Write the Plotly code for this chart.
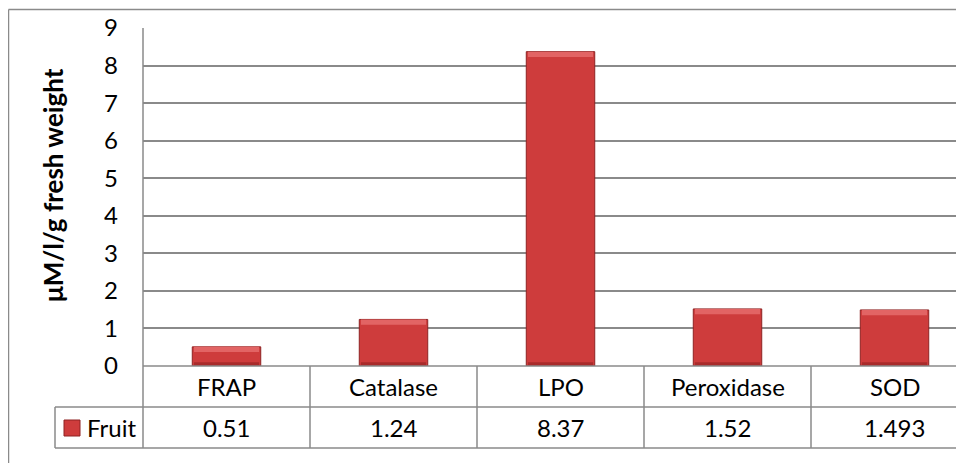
import plotly.graph_objects as go

categories = ["FRAP", "Catalase", "LPO", "Peroxidase", "SOD"]
fruit_values = [0.51, 1.24, 8.37, 1.52, 1.493]
value_labels = ["0.51", "1.24", "8.37", "1.52", "1.493"]
series_name = "Fruit"
y_title = "μM/l/g fresh weight"
y_ticks = list(range(0, 10))

# The page body adds an 8px margin; the figure is sized/offset to compensate.
OFF = 8
W, H = 964 - OFF, 463 - OFF
PLOT_L, PLOT_T, PLOT_B = 143, 28, 366   # reference pixel positions
L, T = PLOT_L - OFF, PLOT_T - OFF
B = H - (PLOT_B - OFF)
plot_h = PLOT_B - PLOT_T
plot_w = W - L
COL_W = 167.0

def py(Y):   # reference pixel Y -> paper y
    return (PLOT_B - Y) / plot_h

def px(X):   # reference pixel X -> paper x
    return (X - PLOT_L) / plot_w

FONT = "Lato, Carlito, Calibri, sans-serif"
GRID = "#8a8a8a"

top_h = 0.14
bot_h = 0.10

fig = go.Figure()
fig.add_trace(go.Bar(
    x=categories, y=fruit_values, width=0.41, name=series_name,
    marker=dict(color="#CE3C3C", line=dict(color="#8E2323", width=1)),
    showlegend=False, hoverinfo="x+y",
))
fig.add_trace(go.Bar(
    x=categories, y=[top_h] * len(fruit_values),
    base=[v - top_h for v in fruit_values], width=0.39,
    marker=dict(color="#E26464", line=dict(width=0)),
    showlegend=False, hoverinfo="skip",
))
fig.add_trace(go.Bar(
    x=categories, y=[bot_h] * len(fruit_values),
    base=[0.0] * len(fruit_values), width=0.39,
    marker=dict(color="#A82B2B", line=dict(width=0)),
    showlegend=False, hoverinfo="skip",
))

shapes = []
line = dict(color=GRID, width=1.5)
shapes.append(dict(type="line", xref="paper", yref="paper", x0=px(8.5), x1=1.2, y0=py(9.5), y1=py(9.5), line=line))
shapes.append(dict(type="line", xref="paper", yref="paper", x0=px(8.5), x1=px(8.5), y0=py(9.5), y1=py(500), line=line))
shapes.append(dict(type="line", xref="paper", yref="paper", x0=0, x1=0, y0=1, y1=py(448), line=line))
shapes.append(dict(type="line", xref="paper", yref="paper", x0=0, x1=1.2, y0=0, y1=0, line=line))
shapes.append(dict(type="line", xref="paper", yref="paper", x0=px(55), x1=1.2, y0=py(407), y1=py(407), line=line))
shapes.append(dict(type="line", xref="paper", yref="paper", x0=px(55), x1=1.2, y0=py(448), y1=py(448), line=line))
shapes.append(dict(type="line", xref="paper", yref="paper", x0=px(55), x1=px(55), y0=py(407), y1=py(448), line=line))
for i in range(len(categories)):
    shapes.append(dict(type="line", xref="x", yref="paper", x0=i + 0.5, x1=i + 0.5,
                       y0=0, y1=py(448), line=line))
shapes.append(dict(type="rect", xref="paper", yref="paper", x0=px(64), x1=px(80),
                   y0=py(436), y1=py(420), fillcolor="#CE3C3C",
                   line=dict(color="#8E2323", width=1)))

TXT = dict(size=24, color="#000", family=FONT)
annotations = []
for c, lab in zip(categories, value_labels):
    annotations.append(dict(x=c, xref="x", y=py(386.5), yref="paper", text=c,
                            showarrow=False, font=TXT, xanchor="center", yanchor="middle"))
    annotations.append(dict(x=c, xref="x", y=py(427.5), yref="paper", text=lab,
                            showarrow=False, font=TXT, xanchor="center", yanchor="middle"))
annotations.append(dict(x=px(85), xref="paper", y=py(427.5), yref="paper", text=series_name,
                        showarrow=False, font=TXT, xanchor="left", yanchor="middle"))
annotations.append(dict(x=px(53), xref="paper", y=py(185), yref="paper", text="<b>" + y_title + "</b>",
                        textangle=-90, showarrow=False,
                        font=dict(size=26, color="#000", family=FONT),
                        xanchor="center", yanchor="middle"))

fig.update_layout(
    width=W, height=H,
    margin=dict(l=L, r=0, t=T, b=B, pad=0),
    paper_bgcolor="white", plot_bgcolor="white",
    barmode="overlay",
    shapes=shapes, annotations=annotations,
    showlegend=False,
)
fig.update_xaxes(
    type="category", range=[-0.5, -0.5 + plot_w / COL_W],
    showticklabels=False, showgrid=False, zeroline=False, showline=False, ticks="",
)
fig.update_yaxes(
    range=[0, 9], tickvals=y_ticks, ticktext=[str(t) for t in y_ticks],
    showgrid=True, gridcolor=GRID, gridwidth=1.5,
    zeroline=False, showline=False, ticks="",
    ticklabelstandoff=24,
    tickfont=dict(size=24, color="#000", family=FONT),
)

fig.write_html("out.html")
